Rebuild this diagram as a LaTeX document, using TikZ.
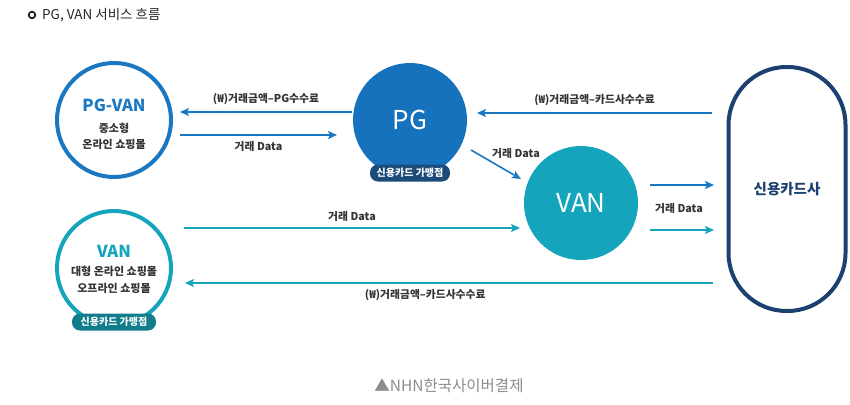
\documentclass[tikz,border=0pt]{standalone}
\usepackage{fontspec}
\setmainfont{Noto Sans CJK KR}
\usetikzlibrary{arrows.meta}

\definecolor{pgblue}{HTML}{1A78C2}
\definecolor{pgfill}{HTML}{1672BD}
\definecolor{vanteal}{HTML}{14A5BD}
\definecolor{badgeteal}{HTML}{117C8B}
\definecolor{badgenavy}{HTML}{1D4B7A}
\definecolor{cardnavy}{HTML}{1C4170}
\definecolor{labelgray}{HTML}{333333}

\tikzset{
  flow/.style={line width=1.6pt, -{Stealth[length=9pt,width=8pt,inset=2pt]}},
  flowlabel/.style={font=\bfseries\fontsize{10.8}{12}\selectfont, text=labelgray, inner sep=1pt},
  badge/.style={rounded corners=8pt, minimum width=84pt, minimum height=17pt, inner sep=2pt,
    text=white, font=\bfseries\fontsize{10}{11}\selectfont},
  hub/.style={circle, minimum size=114pt, inner sep=0pt}
}

\begin{document}
\begin{tikzpicture}[x=1pt,y=-1pt]
\useasboundingbox (0,0) rectangle (850,404);

\draw[line width=1.8pt, black!85] (32,15) circle (3.3pt);
\node[anchor=west, font=\fontsize{13.5}{15}\selectfont, text=black!85, inner sep=0pt] (title) at (42,15) {PG, VAN 서비스 흐름};

\node[hub, draw=pgblue, line width=4pt] (pgvan) at (114,120) {};
\node[font=\bfseries\fontsize{16.5}{18}\selectfont, text=pgblue] at (114,105) {PG-VAN};
\node[font=\bfseries\fontsize{11}{16}\selectfont, text=labelgray, align=center] at (114,136) {중소형\\온라인 쇼핑몰};

\node[hub, draw=vanteal, line width=4pt] (shop) at (114,268) {};
\node[font=\bfseries\fontsize{16.5}{18}\selectfont, text=vanteal] at (114,251) {VAN};
\node[font=\bfseries\fontsize{11}{17}\selectfont, text=labelgray, align=center] at (114,280) {대형 온라인 쇼핑몰\\오프라인 쇼핑몰};
\node[badge, fill=badgeteal] (shopbadge) at (114,322) {신용카드 가맹점};

\node[hub, fill=pgfill, text=white, font=\fontsize{26}{28}\selectfont] (pg) at (410,120) {PG};
\node[badge, fill=badgenavy, minimum width=80pt] (pgbadge) at (410,173) {신용카드 가맹점};

\node[hub, fill=vanteal, text=white, font=\fontsize{26}{28}\selectfont] (van) at (581,203) {VAN};

\node[draw=cardnavy, line width=4pt, rounded corners=58pt, minimum width=117pt, minimum height=244pt,
  font=\bfseries\fontsize{14.5}{16}\selectfont, text=cardnavy] (card) at (787,189) {신용카드사};

\coordinate (a1s) at (352,112);
\coordinate (a1e) at (180,112);
\coordinate (a2s) at (180,135);
\coordinate (a2e) at (337,135);
\coordinate (a3s) at (712,113);
\coordinate (a3e) at (477,113);
\coordinate (a4s) at (471,150);
\coordinate (a4e) at (521,179);
\coordinate (a5s) at (184,228);
\coordinate (a5e) at (520,228);
\coordinate (a6s) at (650,185);
\coordinate (a6e) at (714,185);
\coordinate (a7s) at (650,230);
\coordinate (a7e) at (714,230);
\coordinate (a8s) at (713,283);
\coordinate (a8e) at (185,283);

\draw[flow, pgblue] (a1s) -- (a1e) node[midway, above=5pt, flowlabel] {(₩)거래금액–PG수수료};
\draw[flow, pgblue] (a2s) -- (a2e) node[midway, below=5pt, flowlabel] {거래 Data};
\draw[flow, pgblue] (a3s) -- (a3e) node[midway, above=5pt, flowlabel] {(₩)거래금액–카드사수수료};
\draw[flow, pgblue] (a4s) -- (a4e);
\node[flowlabel] (a4l) at (516,153) {거래 Data};
\draw[flow, vanteal] (a5s) -- (a5e) node[midway, above=5pt, flowlabel] {거래 Data};
\draw[flow, pgblue] (a6s) -- (a6e);
\draw[flow, vanteal] (a7s) -- (a7e);
\node[flowlabel] (a67l) at (679,208) {거래 Data};
\draw[flow, vanteal] (a8s) -- (a8e) node[pos=0.545, below=5pt, flowlabel] {(₩)거래금액–카드사수수료};

\node[font=\fontsize{15.5}{17}\selectfont, text=black!45] (source) at (449,386) {▲NHN한국사이버결제};
\end{tikzpicture}
\end{document}
